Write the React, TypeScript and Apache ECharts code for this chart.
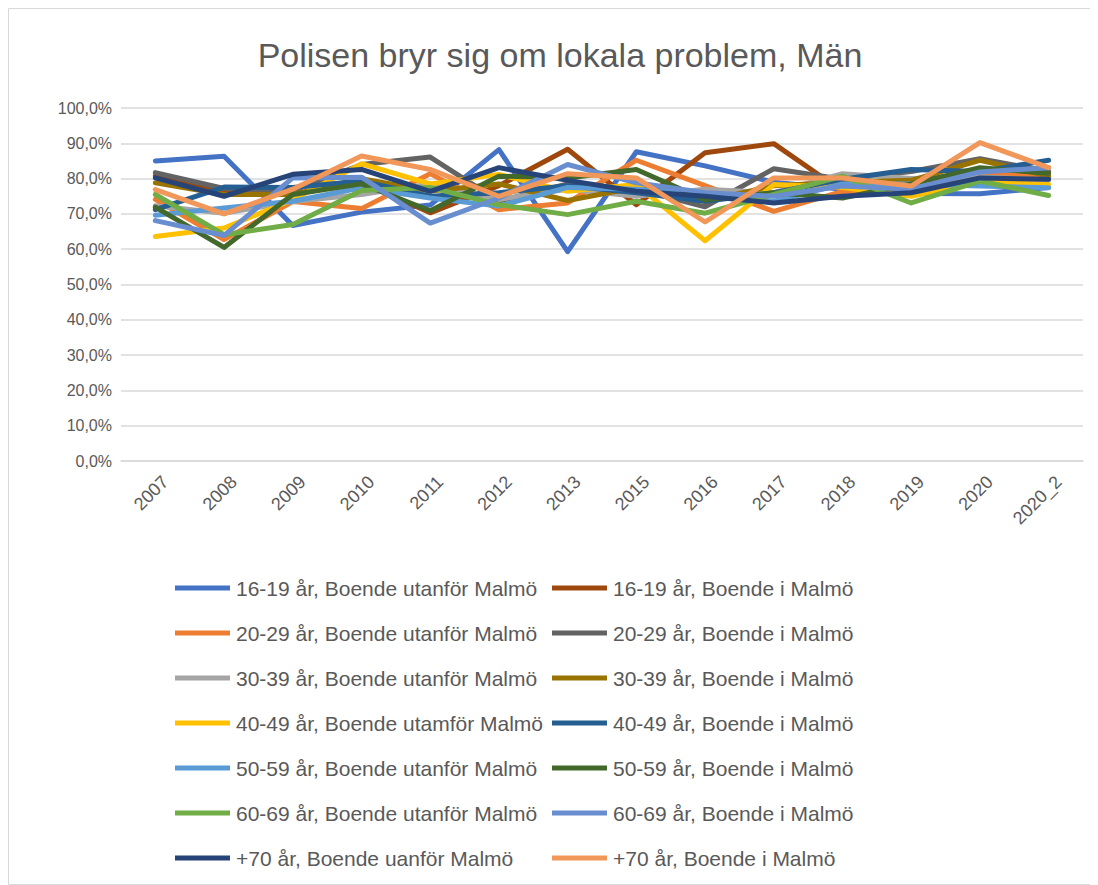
import React, { useEffect, useRef } from "react";
import * as echarts from "echarts";

const categories = ["2007", "2008", "2009", "2010", "2011", "2012", "2013", "2015", "2016", "2017", "2018", "2019", "2020", "2020_2"];

const s1619U = [85.0, 86.3, 66.7, 70.5, 72.5, 88.2, 59.3, 87.6, 83.6, 79.0, 77.0, 75.8, 75.7, 77.5];
const s1619M = [80.8, 76.5, 75.5, 79.0, 70.3, 78.0, 88.3, 72.6, 87.3, 89.9, 76.4, 77.5, 81.5, 80.5];
const s2029U = [74.1, 62.7, 73.5, 71.5, 81.4, 71.2, 73.1, 85.2, 78.0, 70.7, 76.4, 75.5, 81.5, 80.8];
const s2029M = [81.7, 77.2, 76.5, 84.0, 86.1, 73.6, 78.5, 77.0, 72.0, 82.8, 79.8, 82.0, 85.6, 82.0];
const s3039U = [72.3, 70.2, 73.5, 75.5, 78.5, 74.1, 77.0, 75.0, 77.0, 76.0, 81.4, 80.0, 80.5, 79.5];
const s3039M = [78.8, 75.5, 75.5, 80.0, 76.5, 78.5, 73.8, 77.5, 73.5, 78.0, 79.0, 79.5, 85.2, 80.7];
const s4049U = [63.6, 66.0, 74.0, 84.2, 78.5, 81.2, 76.4, 78.3, 62.4, 78.3, 77.5, 75.0, 79.1, 78.3];
const s4049M = [71.2, 77.6, 77.5, 79.3, 75.0, 76.0, 78.0, 76.0, 73.6, 76.0, 79.8, 82.6, 82.0, 85.2];
const s5059U = [69.6, 71.7, 73.6, 77.4, 74.5, 72.2, 77.5, 77.0, 75.5, 73.5, 78.5, 78.5, 77.9, 77.4];
const s5059M = [71.9, 60.5, 75.5, 78.5, 70.9, 80.7, 80.2, 82.6, 74.0, 76.0, 74.5, 78.5, 83.1, 81.5];
const s6069U = [75.5, 64.1, 67.0, 76.6, 77.5, 72.6, 69.8, 73.6, 70.2, 75.5, 80.7, 73.1, 79.3, 75.2];
const s6069M = [68.1, 63.9, 80.2, 80.4, 67.4, 74.5, 84.0, 78.8, 76.0, 75.0, 77.9, 77.0, 81.9, 83.1];
const s70U = [80.2, 75.0, 81.2, 82.6, 76.4, 83.1, 79.5, 76.4, 75.0, 73.1, 75.0, 76.0, 80.2, 79.8];
const s70M = [76.9, 70.0, 77.0, 86.4, 82.6, 75.0, 81.4, 80.2, 67.7, 80.2, 80.2, 77.9, 90.2, 83.1];

const seriesNames = [
  "16-19 år, Boende utanför Malmö",
  "16-19 år, Boende i Malmö",
  "20-29 år, Boende utanför Malmö",
  "20-29 år, Boende i Malmö",
  "30-39 år, Boende utanför Malmö",
  "30-39 år, Boende i Malmö",
  "40-49 år, Boende utamför Malmö",
  "40-49 år, Boende i Malmö",
  "50-59 år, Boende utanför Malmö",
  "50-59 år, Boende i Malmö",
  "60-69 år, Boende utanför Malmö",
  "60-69 år, Boende i Malmö",
  "+70 år, Boende uanför Malmö",
  "+70 år, Boende i Malmö",
];
const seriesValues = [s1619U, s1619M, s2029U, s2029M, s3039U, s3039M, s4049U, s4049M, s5059U, s5059M, s6069U, s6069M, s70U, s70M];
const seriesColors = ["#4472C4", "#9E480E", "#ED7D31", "#636363", "#A5A5A5", "#997300", "#FFC000", "#255E91", "#5B9BD5", "#43682B", "#70AD47", "#698ED0", "#264478", "#F1975A"];

const yTicks = { min: 0, max: 100, interval: 10 };
const titleText = "Polisen bryr sig om lokala problem, Män";

export default function App() {
  const ref = useRef<HTMLDivElement>(null);
  useEffect(() => {
    if (!ref.current) return;
    const chart = echarts.init(ref.current, null, { renderer: "svg" });
    const font = "'Liberation Sans', Arial, sans-serif";
    const textColor = "#595959";
    const series = seriesNames.map((name, i) => ({
      name,
      type: "line",
      data: seriesValues[i],
      symbol: "none",
      smooth: false,
      color: seriesColors[i],
      lineStyle: { width: 5, color: seriesColors[i], cap: "round", join: "round" },
      emphasis: { disabled: true },
    }));
    const leftNames = seriesNames.filter((_, i) => i % 2 === 0);
    const rightNames = seriesNames.filter((_, i) => i % 2 === 1);
    const legendBase = {
      orient: "vertical",
      top: 563,
      icon: "rect",
      itemWidth: 55,
      itemHeight: 5,
      itemGap: 21,
      textStyle: { fontSize: 21, color: textColor, fontFamily: font, lineHeight: 24, padding: [0, 0, 0, 1] },
      selectedMode: false,
    };
    chart.setOption({
      animation: false,
      backgroundColor: "#ffffff",
      textStyle: { fontFamily: font },
      graphic: [
        {
          type: "rect",
          shape: { x: 0.5, y: 0.5, width: 1089, height: 876 },
          style: { fill: "none", stroke: "#D9D9D9", lineWidth: 1 },
          silent: true,
        },
        {
          type: "text",
          x: 552,
          y: 47,
          style: {
            text: titleText,
            fill: textColor,
            fontSize: 34,
            fontFamily: font,
            textAlign: "center",
            textVerticalAlign: "middle",
          },
        },
      ],
      grid: { left: 113, top: 100, width: 962, height: 353, containLabel: false },
      xAxis: {
        type: "category",
        data: categories,
        boundaryGap: true,
        axisLine: { show: true, lineStyle: { color: "#D9D9D9", width: 1.5 } },
        axisTick: { show: false },
        axisLabel: {
          rotate: 45,
          fontSize: 18,
          color: textColor,
          fontFamily: font,
          margin: 8,
          interval: 0,
          verticalAlign: "top",
          padding: [5, 0, 0, 0],
        },
      },
      yAxis: {
        type: "value",
        min: yTicks.min,
        max: yTicks.max,
        interval: yTicks.interval,
        axisLine: { show: false },
        axisTick: { show: false },
        splitLine: { lineStyle: { color: "#D9D9D9", width: 1.5 } },
        axisLabel: {
          fontSize: 16,
          color: textColor,
          fontFamily: font,
          margin: 9,
          formatter: (v: number) => v.toFixed(1).replace(".", ",") + "%",
        },
      },
      legend: [
        { ...legendBase, left: 162, data: leftNames },
        { ...legendBase, left: 539, data: rightNames },
      ],
      series,
    });
    return () => chart.dispose();
  }, []);
  return <div ref={ref} style={{ width: 1090, height: 877 }} />;
}
